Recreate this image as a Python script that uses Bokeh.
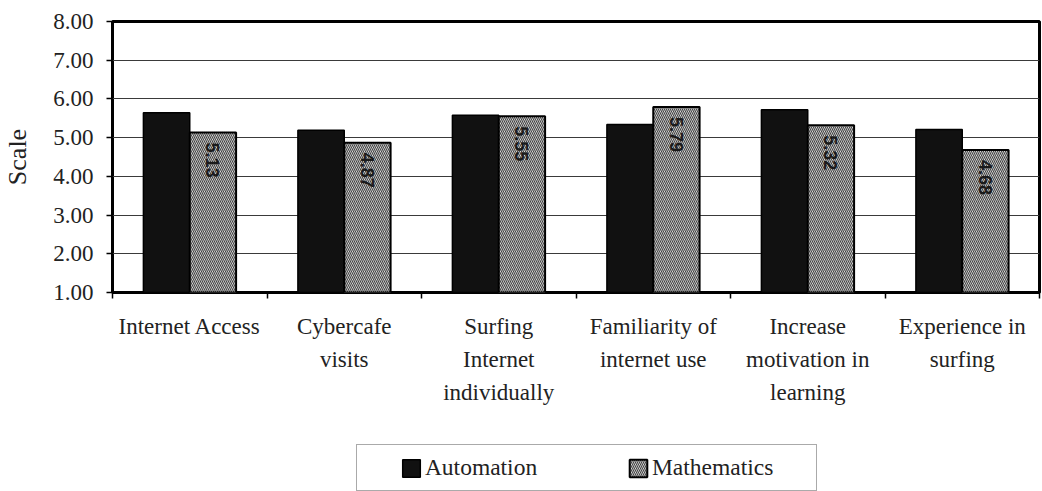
import numpy as np
from bokeh.plotting import figure
from bokeh.layouts import column
from bokeh.models import (ColumnDataSource, Range1d, FixedTicker, PrintfTickFormatter,
                          Legend, LegendItem, LabelSet)
from bokeh.transform import dodge
from bokeh.core.properties import value
from bokeh.embed import file_html
from bokeh.resources import INLINE

categories = ["Internet Access", "Cybercafe\nvisits", "Surfing\nInternet\nindividually",
              "Familiarity of\ninternet use", "Increase\nmotivation in\nlearning",
              "Experience in\nsurfing"]
automation = [5.64, 5.19, 5.58, 5.34, 5.72, 5.21]
mathematics = [5.13, 4.87, 5.55, 5.79, 5.32, 4.68]
math_labels = ["5.13", "4.87", "5.55", "5.79", "5.32", "4.68"]
series_names = ["Automation", "Mathematics"]
y_ticks = [1, 2, 3, 4, 5, 6, 7, 8]

n = len(categories)
centers = [i + 0.5 for i in range(n)]
bounds = list(range(n + 1))
src = ColumnDataSource(dict(x=centers, auto=automation, math=mathematics, lab=math_labels))

auto_style = dict(fill_color="#111111", line_color="black", line_width=1.5)
math_style = dict(fill_color="#f2f2f2", line_color="black", line_width=2,
                  hatch_pattern="left_diagonal_line", hatch_color="#444444", hatch_scale=4,
                  hatch_weight=1.2)

p = figure(width=1041, height=442, x_range=Range1d(0, n), y_range=Range1d(y_ticks[0], y_ticks[-1]),
           output_backend="svg", toolbar_location=None,
           min_border_left=108, min_border_right=2, min_border_top=21, min_border_bottom=150)
p.background_fill_color = "white"
p.border_fill_color = "white"
p.outline_line_color = "black"
p.outline_line_width = 3
p.xgrid.visible = False
p.ygrid.grid_line_color = "#3a3a3a"
p.ygrid.grid_line_width = 1.2

p.vbar(x=dodge("x", -0.15, range=p.x_range), top="auto", width=0.3, source=src, **auto_style)
p.vbar(x=dodge("x", 0.15, range=p.x_range), top="math", width=0.3, source=src, **math_style)

labels = LabelSet(x=dodge("x", 0.15, range=p.x_range), y="math", text="lab", source=src,
                  angle=-np.pi / 2, text_align="left", text_baseline="middle", y_offset=-10,
                  text_font=value("Liberation Sans"), text_font_size="18px",
                  text_font_style="bold", text_color="#1a1a1a")
p.add_layout(labels)

# x axis
p.xaxis.ticker = FixedTicker(ticks=centers, minor_ticks=bounds)
p.xaxis.major_label_overrides = {c: lab for c, lab in zip(centers, categories)}
p.xaxis.major_tick_line_color = None
p.xaxis.major_tick_out = 6
p.xaxis.minor_tick_line_color = "black"
p.xaxis.minor_tick_line_width = 1.5
p.xaxis.minor_tick_out = 6
p.xaxis.minor_tick_in = 0
p.xaxis.axis_line_color = None
p.xaxis.major_label_standoff = 15
p.xaxis.major_label_text_font = "Liberation Serif"
p.xaxis.major_label_text_font_size = "23px"
p.xaxis.major_label_text_color = "#222222"
p.xaxis.major_label_text_line_height = 1.33

# y axis
p.yaxis.ticker = FixedTicker(ticks=y_ticks)
p.yaxis.formatter = PrintfTickFormatter(format="%.2f")
p.yaxis.axis_label = "Scale"
p.yaxis.axis_label_text_font = "Liberation Serif"
p.yaxis.axis_label_text_font_size = "26px"
p.yaxis.axis_label_text_font_style = "normal"
p.yaxis.axis_label_text_color = "#222222"
p.yaxis.axis_label_standoff = 18
p.yaxis.major_label_text_font = "Liberation Serif"
p.yaxis.major_label_text_font_size = "23px"
p.yaxis.major_label_text_color = "#222222"
p.yaxis.major_label_standoff = 13
p.yaxis.major_tick_out = 6
p.yaxis.major_tick_in = 0
p.yaxis.major_tick_line_color = "black"
p.yaxis.major_tick_line_width = 1.5
p.yaxis.minor_tick_line_color = None
p.yaxis.axis_line_color = None

# legend strip: a second figure whose frame holds the legend box; its bar renderers
# share the data but are hidden, so only their legend glyphs show
q = figure(width=1041, height=49, x_range=Range1d(0, n), y_range=Range1d(0, 1),
           output_backend="svg", toolbar_location=None,
           x_axis_location=None, y_axis_location=None,
           min_border_left=0, min_border_right=0, min_border_top=0, min_border_bottom=0)
q.grid.visible = False
q.outline_line_color = None
q.background_fill_color = "white"
q.border_fill_color = "white"
qa = q.vbar(x=dodge("x", -0.15, range=q.x_range), top="auto", width=0.3, source=src,
            visible=False, **auto_style)
qm = q.vbar(x=dodge("x", 0.15, range=q.x_range), top="math", width=0.3, source=src,
            visible=False, **math_style)
qb = q.vbar(x="x", top="auto", width=0.3, source=src, fill_alpha=0, line_alpha=0,
            visible=False)

nb = "\u00a0"
items = [LegendItem(label=value(nb), renderers=[qb]),
         LegendItem(label=value(series_names[0]), renderers=[qa]),
         LegendItem(label=value(nb * 10), renderers=[qb]),
         LegendItem(label=value(series_names[1]), renderers=[qm]),
         LegendItem(label=value(nb), renderers=[qb])]
legend = Legend(items=items, orientation="horizontal", location=(244, 0),
                padding=9, spacing=3, glyph_width=22, glyph_height=22, label_standoff=3,
                label_width=0, label_text_font="Liberation Serif", label_text_font_size="23.5px",
                label_text_color="#222222", border_line_color="#555555", border_line_width=1.2,
                background_fill_color="white", background_fill_alpha=1, margin=0,
                click_policy="none")
q.add_layout(legend)

open("out.html", "w").write(file_html(column(p, q, spacing=0), INLINE))
